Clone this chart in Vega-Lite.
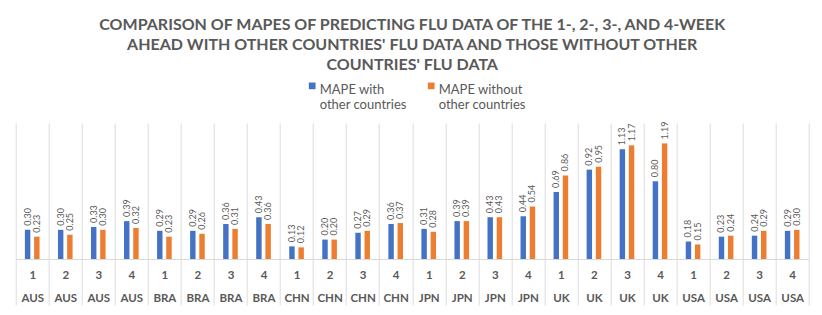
{
"$schema": "https://vega.github.io/schema/vega-lite/v6.json",
"width": 793, "height": 136,
"autosize": {"type": "none"},
"padding": {"left": 15.7, "top": 123, "right": 13.3, "bottom": 56},
"background": "white",
"title": {"text": ["COMPARISON OF MAPES OF PREDICTING FLU DATA OF THE 1-, 2-, 3-, AND 4-WEEK", "AHEAD WITH OTHER COUNTRIES' FLU DATA AND THOSE WITHOUT OTHER", "COUNTRIES' FLU DATA"], "font": "Lato", "fontSize": 16, "fontWeight": "bold", "color": "#595959", "lineHeight": 20, "anchor": "middle", "offset": 6},
"data": {"values": [
{"cat": "1 AUS", "series": "MAPE with other countries", "value": 0.30},
{"cat": "1 AUS", "series": "MAPE without other countries", "value": 0.23},
{"cat": "2 AUS", "series": "MAPE with other countries", "value": 0.30},
{"cat": "2 AUS", "series": "MAPE without other countries", "value": 0.25},
{"cat": "3 AUS", "series": "MAPE with other countries", "value": 0.33},
{"cat": "3 AUS", "series": "MAPE without other countries", "value": 0.30},
{"cat": "4 AUS", "series": "MAPE with other countries", "value": 0.39},
{"cat": "4 AUS", "series": "MAPE without other countries", "value": 0.32},
{"cat": "1 BRA", "series": "MAPE with other countries", "value": 0.29},
{"cat": "1 BRA", "series": "MAPE without other countries", "value": 0.23},
{"cat": "2 BRA", "series": "MAPE with other countries", "value": 0.29},
{"cat": "2 BRA", "series": "MAPE without other countries", "value": 0.26},
{"cat": "3 BRA", "series": "MAPE with other countries", "value": 0.36},
{"cat": "3 BRA", "series": "MAPE without other countries", "value": 0.31},
{"cat": "4 BRA", "series": "MAPE with other countries", "value": 0.43},
{"cat": "4 BRA", "series": "MAPE without other countries", "value": 0.36},
{"cat": "1 CHN", "series": "MAPE with other countries", "value": 0.13},
{"cat": "1 CHN", "series": "MAPE without other countries", "value": 0.12},
{"cat": "2 CHN", "series": "MAPE with other countries", "value": 0.20},
{"cat": "2 CHN", "series": "MAPE without other countries", "value": 0.20},
{"cat": "3 CHN", "series": "MAPE with other countries", "value": 0.27},
{"cat": "3 CHN", "series": "MAPE without other countries", "value": 0.29},
{"cat": "4 CHN", "series": "MAPE with other countries", "value": 0.36},
{"cat": "4 CHN", "series": "MAPE without other countries", "value": 0.37},
{"cat": "1 JPN", "series": "MAPE with other countries", "value": 0.31},
{"cat": "1 JPN", "series": "MAPE without other countries", "value": 0.28},
{"cat": "2 JPN", "series": "MAPE with other countries", "value": 0.39},
{"cat": "2 JPN", "series": "MAPE without other countries", "value": 0.39},
{"cat": "3 JPN", "series": "MAPE with other countries", "value": 0.43},
{"cat": "3 JPN", "series": "MAPE without other countries", "value": 0.43},
{"cat": "4 JPN", "series": "MAPE with other countries", "value": 0.44},
{"cat": "4 JPN", "series": "MAPE without other countries", "value": 0.54},
{"cat": "1 UK", "series": "MAPE with other countries", "value": 0.69},
{"cat": "1 UK", "series": "MAPE without other countries", "value": 0.86},
{"cat": "2 UK", "series": "MAPE with other countries", "value": 0.92},
{"cat": "2 UK", "series": "MAPE without other countries", "value": 0.95},
{"cat": "3 UK", "series": "MAPE with other countries", "value": 1.13},
{"cat": "3 UK", "series": "MAPE without other countries", "value": 1.17},
{"cat": "4 UK", "series": "MAPE with other countries", "value": 0.80},
{"cat": "4 UK", "series": "MAPE without other countries", "value": 1.19},
{"cat": "1 USA", "series": "MAPE with other countries", "value": 0.18},
{"cat": "1 USA", "series": "MAPE without other countries", "value": 0.15},
{"cat": "2 USA", "series": "MAPE with other countries", "value": 0.23},
{"cat": "2 USA", "series": "MAPE without other countries", "value": 0.24},
{"cat": "3 USA", "series": "MAPE with other countries", "value": 0.24},
{"cat": "3 USA", "series": "MAPE without other countries", "value": 0.29},
{"cat": "4 USA", "series": "MAPE with other countries", "value": 0.29},
{"cat": "4 USA", "series": "MAPE without other countries", "value": 0.30}
]},
"encoding": {
  "x": {"field": "cat", "type": "nominal", "sort": null,
        "scale": {"paddingInner": 0, "paddingOuter": 0},
        "axis": {"title": null, "labelAngle": 0, "labelExpr": "isValid(datum.value) ? split(datum.value, ' ') : ''",
                 "labelFont": "Lato", "labelFontSize": 11.5, "labelFontWeight": "bold", "labelColor": "#595959",
                 "labelLineHeight": 22.5, "labelBaseline": "top", "labelPadding": -35.5,
                 "grid": true, "gridColor": "#dcdcdc", "tickBand": "extent", "tickSize": 46, "tickColor": "#dcdcdc",
                 "domainColor": "#d9d9d9"}},
  "xOffset": {"field": "series", "type": "nominal", "sort": null, "scale": {"paddingInner": 0.41, "paddingOuter": 1.15}},
  "y": {"field": "value", "type": "quantitative", "scale": {"domain": [0, 1.4], "nice": false}, "axis": null}
},
"layer": [
  {"mark": {"type": "bar"},
   "encoding": {"color": {"field": "series", "type": "nominal", "sort": null,
      "scale": {"range": ["#4472C4", "#ED7D31"]},
      "legend": {"title": null, "orient": "none", "legendX": 290, "legendY": -44, "direction": "horizontal",
                 "symbolType": "square", "symbolSize": 45, "symbolStrokeWidth": 0, "labelOffset": 1, "columnPadding": 18,
                 "labelFont": "Lato", "labelFontSize": 13, "labelColor": "#595959", "labelLineHeight": 16,
                 "labelExpr": "split(replace(datum.value, ' other', '|other'), '|')", "padding": 0,
                 "encode": {"labels": {"update": {"dy": {"value": 3.75}}}}}}}},
  {"mark": {"type": "text", "angle": -90, "align": "left", "baseline": "middle", "dx": 4, "fontSize": 9, "color": "#595959", "font": "Lato"},
   "encoding": {"text": {"field": "value", "type": "quantitative", "format": ".2f"}}}
],
"config": {"view": {"stroke": null}}
}
